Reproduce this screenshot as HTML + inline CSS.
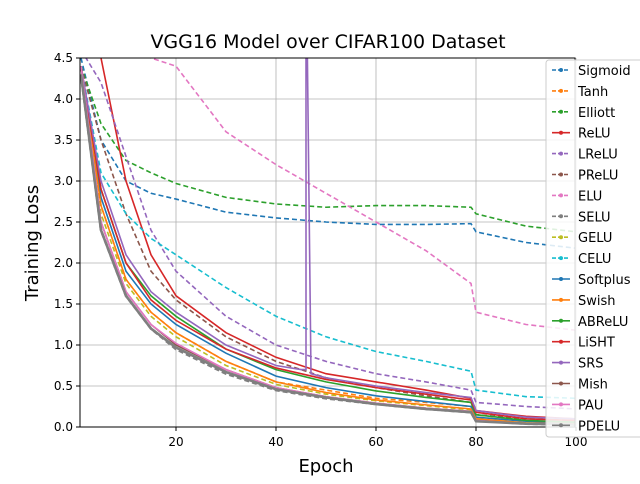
<!DOCTYPE html>
<html><head><meta charset="utf-8"><style>
body{margin:0;background:#fff;font-family:"DejaVu Sans","Liberation Sans",sans-serif}
</style></head><body>
<svg id="c" width="640" height="480" xmlns="http://www.w3.org/2000/svg" font-family="DejaVu Sans, Liberation Sans, sans-serif">
<text x="328" y="48" font-size="19" text-anchor="middle">VGG16 Model over CIFAR100 Dataset</text>
<text x="326" y="472" font-size="18" text-anchor="middle">Epoch</text>
<text x="38" y="243" font-size="18" text-anchor="middle" transform="rotate(-90 38 243)">Training Loss</text>
<g id="grid"></g><g id="ticks"></g>
<clipPath id="clip"><rect x="80" y="58" width="495" height="369"/></clipPath>
<g id="series" clip-path="url(#clip)"></g>
<rect x="80" y="58" width="495" height="369" fill="none" stroke="#000" stroke-width="1"/>
<g id="legend"></g>
</svg>
<script>
const epochs=[1,5,10,15,20,30,40,50,60,70,79,80,90,100];
const srsEpochs=[1,5,10,15,20,30,40,45,46,46,47,50,60,70,79,80,90,100];
const names=["Sigmoid","Tanh","Elliott","ReLU","LReLU","PReLU","ELU","SELU","GELU","CELU","Softplus","Swish","ABReLU","LiSHT","SRS","Mish","PAU","PDELU"];
const colors=["#1f77b4","#ff7f0e","#2ca02c","#d62728","#9467bd","#8c564b","#e377c2","#7f7f7f","#bcbd22","#17becf","#1f77b4","#ff7f0e","#2ca02c","#d62728","#9467bd","#8c564b","#e377c2","#7f7f7f"];
const dashed=[1,1,1,0,1,1,1,1,1,1,0,0,0,0,0,0,0,0];
const sigmoid=[4.5,3.5,3.0,2.85,2.78,2.62,2.55,2.5,2.47,2.47,2.48,2.38,2.25,2.18];
const tanh=[4.4,2.7,1.8,1.4,1.15,0.8,0.55,0.45,0.35,0.3,0.25,0.12,0.07,0.05];
const elliott=[4.4,3.7,3.25,3.1,2.97,2.8,2.72,2.68,2.7,2.7,2.68,2.6,2.45,2.38];
const relu=[5.2,4.5,3.0,2.1,1.6,1.15,0.85,0.65,0.55,0.45,0.35,0.2,0.13,0.1];
const lrelu=[4.6,4.2,3.3,2.4,1.9,1.35,1.0,0.8,0.65,0.55,0.45,0.3,0.25,0.22];
const prelu=[4.4,3.5,2.6,1.9,1.55,1.1,0.8,0.6,0.48,0.38,0.3,0.15,0.1,0.08];
const elu=[6.5,5.5,4.9,4.5,4.4,3.6,3.2,2.85,2.5,2.15,1.75,1.4,1.25,1.18];
const selu=[4.3,2.4,1.6,1.2,0.95,0.65,0.45,0.35,0.28,0.22,0.18,0.08,0.04,0.03];
const gelu=[4.4,2.6,1.75,1.35,1.1,0.75,0.52,0.4,0.32,0.26,0.21,0.1,0.05,0.04];
const celu=[4.4,3.1,2.6,2.3,2.1,1.7,1.35,1.1,0.92,0.8,0.68,0.45,0.37,0.35];
const softplus=[4.4,2.8,1.9,1.5,1.25,0.9,0.62,0.48,0.38,0.31,0.25,0.12,0.07,0.05];
const swish=[4.4,2.7,1.8,1.4,1.15,0.8,0.55,0.42,0.33,0.27,0.22,0.1,0.05,0.04];
const abrelu=[4.4,2.9,2.0,1.6,1.35,0.95,0.7,0.55,0.44,0.36,0.3,0.15,0.08,0.06];
const lisht=[4.4,2.9,2.0,1.55,1.3,0.95,0.72,0.58,0.48,0.4,0.33,0.18,0.1,0.08];
const srs=[4.4,3.0,2.1,1.65,1.4,1.0,0.75,0.7,0.7,6.0,0.65,0.6,0.5,0.42,0.36,0.2,0.12,0.1];
const mish=[4.4,2.5,1.65,1.25,1.0,0.7,0.48,0.37,0.29,0.23,0.19,0.08,0.04,0.03];
const pau=[4.4,2.5,1.65,1.25,1.02,0.7,0.48,0.37,0.29,0.23,0.19,0.08,0.04,0.03];
const pdelu=[4.3,2.4,1.6,1.2,0.97,0.67,0.46,0.36,0.28,0.22,0.18,0.07,0.04,0.03];
const allSeries=[sigmoid,tanh,elliott,relu,lrelu,prelu,elu,selu,gelu,celu,softplus,swish,abrelu,lisht,srs,mish,pau,pdelu];
const xTicks=[20,40,60,80,100];
const yTicks=[0,0.5,1.0,1.5,2.0,2.5,3.0,3.5,4.0,4.5];
const NS="http://www.w3.org/2000/svg";
const xS=e=>76+e*5;
const yS=v=>427-v*82;
function mk(t,a,p){const el=document.createElementNS(NS,t);for(const k in a)el.setAttribute(k,a[k]);p.appendChild(el);return el;}
const grid=document.getElementById('grid'),ticks=document.getElementById('ticks');
xTicks.forEach(t=>{
 const g=mk('line',{x1:xS(t),x2:xS(t),y1:58,y2:427,stroke:'#b0b0b0','stroke-width':0.8},grid);
 
 
 mk('line',{x1:xS(t),x2:xS(t),y1:427,y2:431,stroke:'#000'},ticks);
 const tx=mk('text',{x:xS(t),y:446,'font-size':12,'text-anchor':'middle'},ticks);tx.textContent=t;
 
 
});
yTicks.forEach(t=>{
 const g=mk('line',{x1:80,x2:575,y1:yS(t),y2:yS(t),stroke:'#b0b0b0','stroke-width':0.8},grid);
 
 
 mk('line',{x1:76,x2:80,y1:yS(t),y2:yS(t),stroke:'#000'},ticks);
 const tx=mk('text',{x:73,y:yS(t)+4,'font-size':12,'text-anchor':'end'},ticks);tx.textContent=t.toFixed(1);
 
 
});
const sg=document.getElementById('series');
allSeries.forEach((s,i)=>{
 const ep=(s===srs)?srsEpochs:epochs;
 const pts=s.map((v,j)=>xS(ep[j])+','+yS(v)).join(' ');
 const w=(colors[i]==="#7f7f7f")?2.6:1.6;
 const pl=mk('polyline',{points:pts,fill:'none',stroke:colors[i],'stroke-width':w,'stroke-dasharray':dashed[i]?'5,3':'none'},sg);
 
 
});
const lg=document.getElementById('legend');
const box=mk('rect',{x:546,y:60,width:100,height:377,fill:'#fff','fill-opacity':0.85,stroke:'#ccc',rx:3},lg);


names.forEach((n,i)=>{
 const y=70+i*20.9;
 const g=mk('g',{},lg);
 
 
 mk('line',{x1:552,x2:570,y1:y,y2:y,stroke:colors[i],'stroke-width':1.6,'stroke-dasharray':dashed[i]?'4,2':'none'},g);
 mk('circle',{cx:561,cy:y,r:2,fill:colors[i]},g);
 const t=mk('text',{x:578,y:y+5,'font-size':13},g);t.textContent=n;
});
</script>
</body></html>
